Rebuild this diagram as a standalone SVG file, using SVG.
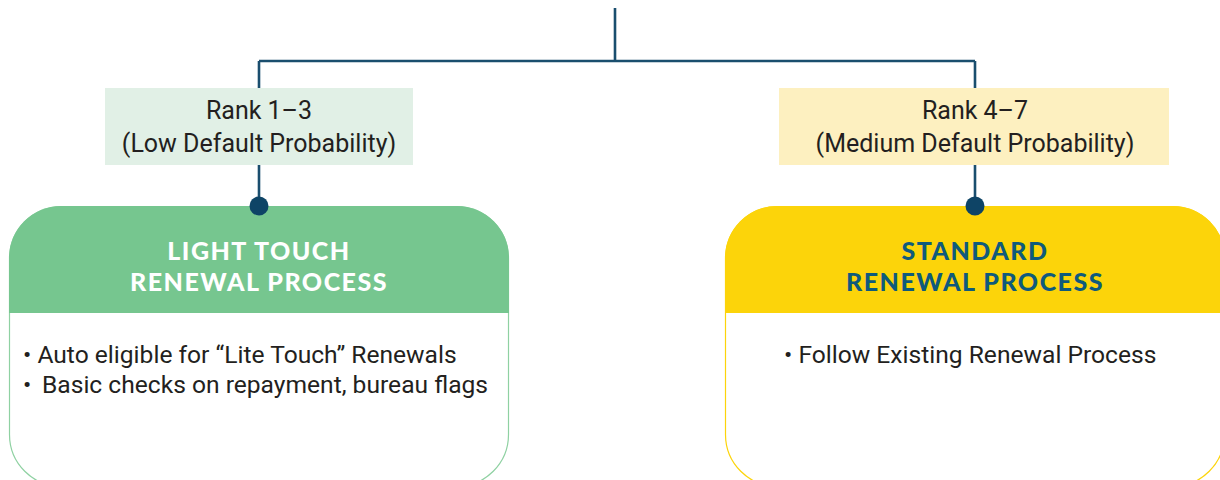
<svg xmlns="http://www.w3.org/2000/svg" width="1220" height="480" viewBox="0 0 1220 480">
<style>
.conn{fill:none;stroke:#1a4e6e;stroke-width:2.6}
.dot{fill:#0e4466}
.lbl{font-family:Roboto,"Liberation Sans",sans-serif;font-size:25px;fill:#231f20;text-anchor:middle}
.ttl{font-family:Lato,"Liberation Sans",sans-serif;font-weight:900;font-size:25px;letter-spacing:1.5px;text-anchor:middle}
.body{font-family:Roboto,"Liberation Sans",sans-serif;font-size:24.6px;fill:#231f20}
</style>
<rect width="1220" height="480" fill="#ffffff"/>
<g id="connectors">
<path class="conn" d="M615,8 V61 M259,61 H975 M259,61 V206 M975,61 V206"/>
</g>
<g id="label-left">
<rect x="105" y="88" width="308" height="77" fill="#e1f0e6"/>
<text class="lbl" x="259" y="119">Rank 1–3</text>
<text class="lbl" x="259" y="152">(Low Default Probability)</text>
</g>
<g id="label-right">
<rect x="779" y="88" width="390" height="77" fill="#fdf0c0"/>
<text class="lbl" x="975" y="119">Rank 4–7</text>
<text class="lbl" x="975" y="152">(Medium Default Probability)</text>
</g>
<g id="light-touch">
<rect x="9.5" y="206.5" width="499" height="280" rx="52" fill="#ffffff" stroke="#8fd1a2" stroke-width="1.2"/>
<path d="M9,313 V258 A52,52 0 0 1 61,206 H457 A52,52 0 0 1 509,258 V313 Z" fill="#76c68f"/>
<text class="ttl" x="259" y="260" fill="#ffffff">LIGHT TOUCH</text>
<text class="ttl" x="259" y="291" fill="#ffffff">RENEWAL PROCESS</text>
<text class="body" x="23" y="363">• Auto eligible for “Lite Touch” Renewals</text>
<text class="body" y="393"><tspan x="23">•</tspan><tspan x="42">Basic checks on repayment, bureau flags</tspan></text>
</g>
<g id="standard">
<rect x="725.5" y="206.5" width="499" height="280" rx="52" fill="#ffffff" stroke="#fcd40a" stroke-width="1.2"/>
<path d="M725,313 V258 A52,52 0 0 1 777,206 H1173 A52,52 0 0 1 1225,258 V313 Z" fill="#fcd40a"/>
<text class="ttl" x="975" y="260" fill="#0f5a7c">STANDARD</text>
<text class="ttl" x="975" y="291" fill="#0f5a7c">RENEWAL PROCESS</text>
<text class="body" x="784" y="363">• Follow Existing Renewal Process</text>
</g>
<circle class="dot" cx="259" cy="206" r="9.5"/>
<circle class="dot" cx="975" cy="206" r="9.5"/>
</svg>
